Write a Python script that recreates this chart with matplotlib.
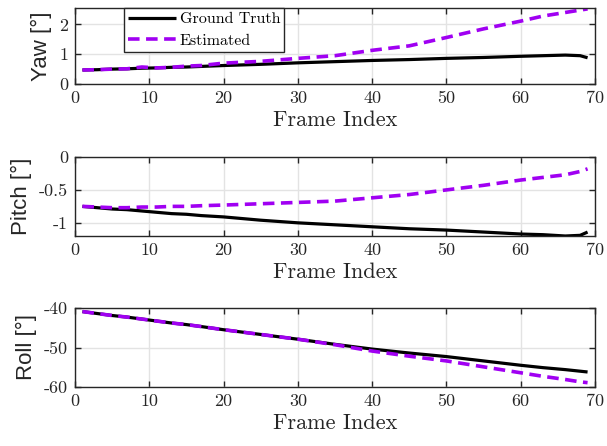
import matplotlib
matplotlib.use("Agg")
import matplotlib.pyplot as plt

# Frame indices at which values are recorded
frames = [1, 3, 5, 7, 9, 11, 13, 15, 17, 20, 25, 30, 35, 40, 45, 50, 55, 60, 63, 66, 68, 69]

yaw_gt = [0.47, 0.48, 0.50, 0.51, 0.53, 0.54, 0.56, 0.57, 0.59, 0.62, 0.66, 0.71, 0.75, 0.79, 0.82, 0.86, 0.89, 0.93, 0.95, 0.97, 0.95, 0.88]
yaw_est = [0.47, 0.48, 0.50, 0.51, 0.57, 0.54, 0.56, 0.60, 0.62, 0.70, 0.76, 0.86, 0.95, 1.13, 1.28, 1.56, 1.85, 2.11, 2.28, 2.40, 2.48, 2.52]

pitch_gt = [-0.75, -0.77, -0.79, -0.80, -0.82, -0.84, -0.86, -0.87, -0.89, -0.91, -0.96, -1.00, -1.03, -1.06, -1.09, -1.11, -1.14, -1.17, -1.18, -1.20, -1.19, -1.14]
pitch_est = [-0.75, -0.76, -0.77, -0.77, -0.76, -0.76, -0.75, -0.75, -0.74, -0.73, -0.71, -0.69, -0.67, -0.62, -0.57, -0.50, -0.43, -0.35, -0.31, -0.27, -0.22, -0.18]

roll_gt = [-40.9, -41.4, -41.9, -42.3, -42.8, -43.3, -43.8, -44.2, -44.7, -45.5, -46.7, -47.9, -49.2, -50.4, -51.4, -52.3, -53.4, -54.5, -55.1, -55.6, -56.0, -56.2]
roll_est = [-40.9, -41.4, -41.9, -42.3, -42.8, -43.3, -43.8, -44.2, -44.7, -45.5, -46.7, -47.9, -49.3, -50.9, -52.2, -53.4, -54.9, -56.4, -57.3, -58.1, -58.7, -58.9]

series = [
    ("Yaw [°]", yaw_gt, yaw_est, (0, 2.55), [0, 1, 2], ["0", "1", "2"]),
    ("Pitch [°]", pitch_gt, pitch_est, (-1.2, 0), [-1, -0.5, 0], ["-1", "-0.5", "0"]),
    ("Roll [°]", roll_gt, roll_est, (-60, -40), [-60, -50, -40], ["-60", "-50", "-40"]),
]

x_ticks = [0, 10, 20, 30, 40, 50, 60, 70]
x_ticklabels = [str(t) for t in x_ticks]

serif = "cmr10"
sans = "Liberation Sans"
purple = "#A000F2"
edge = "#262626"

fig = plt.figure(figsize=(6.07, 4.46), dpi=100)
W, H = 607, 446
boxes = [(8, 84), (157, 236), (308, 387)]
left, right = 75, 595

for (ylabel, gt, est, ylim, yt, ytl), (top, bottom) in zip(series, boxes):
    ax = fig.add_axes([left / W, 1 - bottom / H, (right - left) / W, (bottom - top) / H])
    l1, = ax.plot(frames, gt, color="black", lw=2.3, label="Ground Truth", solid_capstyle="butt")
    l2, = ax.plot(frames, est, color=purple, lw=2.6, ls=(0, (3.2, 1.8)), label="Estimated")
    ax.set_xlim(0, 70)
    ax.set_ylim(*ylim)
    ax.set_xticks(x_ticks)
    ax.set_xticklabels(x_ticklabels, fontfamily=serif, fontsize=13)
    ax.set_yticks(yt)
    ax.set_yticklabels(ytl, fontfamily=serif, fontsize=13)
    ax.grid(True, color="#e3e3e3", lw=1.0)
    ax.set_axisbelow(True)
    for s in ax.spines.values():
        s.set_color(edge)
        s.set_linewidth(1.0)
    ax.tick_params(direction="in", length=4, width=1.0, color=edge, top=True, right=True,
                   labelcolor="#262626", pad=5)
    ax.set_xlabel("Frame Index", fontfamily=serif, fontsize=16, color="#262626", labelpad=3)
    ax.set_ylabel(ylabel, fontfamily=sans, fontsize=16, color="#262626", labelpad=5)
    if ylabel.startswith("Yaw"):
        leg = ax.legend(handles=[l1, l2], loc="upper left", bbox_to_anchor=(0.094, 1.0),
                        prop={"family": serif, "size": 11.5}, fancybox=False, framealpha=1,
                        edgecolor=edge, handlelength=3.0, handletextpad=0.25,
                        borderpad=0.25, labelspacing=0.45, borderaxespad=0)
        leg.get_frame().set_linewidth(1.0)

fig.savefig("out.png", dpi=100)
